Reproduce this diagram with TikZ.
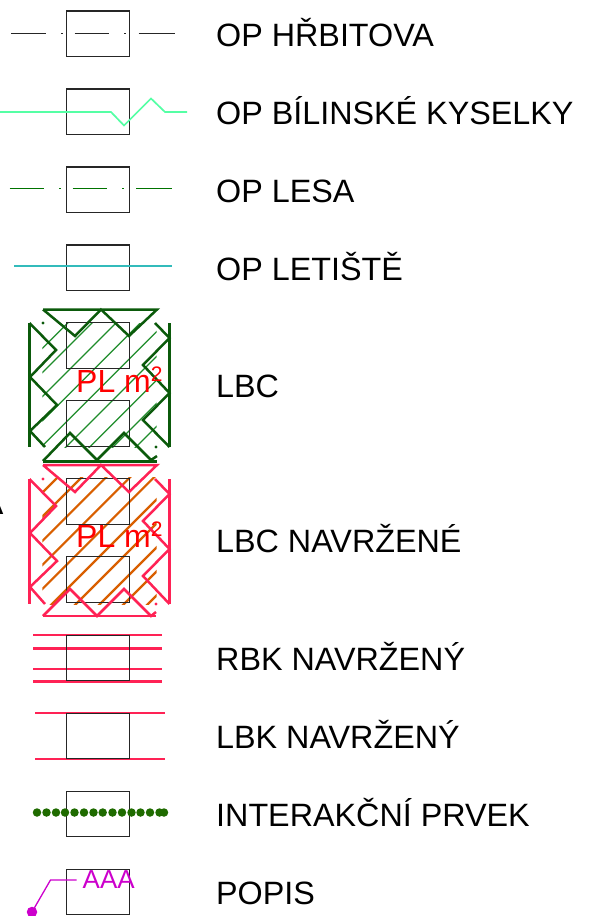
\documentclass[tikz,border=0pt]{standalone}
\usepackage{fontspec}
\setmainfont{Liberation Sans}
\definecolor{dgreen}{HTML}{0B5A0B}
\definecolor{hgreen}{HTML}{1E8C2A}
\definecolor{rose}{HTML}{FF2255}
\definecolor{orng}{HTML}{D95F00}
\definecolor{mint}{HTML}{55FFA5}
\definecolor{teal2}{HTML}{33BBBB}
\definecolor{ipgreen}{HTML}{1F6B00}
\definecolor{mgnt}{HTML}{CC00CC}
\tikzset{
  sample/.style={draw=black!85,line width=1.3pt,minimum width=63pt,minimum height=45.5pt,inner sep=0pt,outer sep=0pt},
  lab/.style={anchor=base west,inner sep=0pt,font=\fontsize{32.3}{36}\selectfont,text=black},
  area/.style={anchor=base west,inner sep=0pt,font=\fontsize{32}{36}\selectfont,text=red},
  dash1/.style={line width=1.3pt,draw=black!85},
  dash2/.style={line width=1.3pt,draw=green!45!black},
  thick1/.style={line width=2.5pt,draw=dgreen,line join=miter},
  thick2/.style={line width=2.5pt,draw=rose,line join=miter},
  hatch1/.style={line width=1.2pt,draw=hgreen},
  hatch2/.style={line width=2.2pt,draw=orng},
  redline/.style={line width=2.1pt,draw=rose},
  ipdot/.style={circle,fill=ipgreen,inner sep=0pt,minimum size=8.5pt},
}
\begin{document}
\begin{tikzpicture}[x=1pt,y=-1pt]
\useasboundingbox (0,0) rectangle (594,916);
% Row 1
\node[sample] (b1) at (98,33.7) {};
\draw[dash1] (11,33.7) coordinate (a1) -- (46,33.7);
\draw[dash1] (74.5,33.7) -- (108.5,33.7);
\draw[dash1] (138.5,33.7) -- (175,33.7);
\fill[black!85] (61.2,33) rectangle +(1.4,1.4);
\fill[black!85] (124.2,33) rectangle +(1.4,1.4);
\node[lab] (t1) at (216,46) {OP HŘBITOVA};
% Row 2
\node[sample] (b2) at (98,111.8) {};
\draw[line width=1.7pt,draw=mint] (0,112) -- (111,112) -- (124,125.5) -- (151,98.5) -- (165,112) -- (187,112);
\node[lab] (t2) at (216,124) {OP BÍLINSKÉ KYSELKY};
% Row 3
\node[sample] (b3) at (98,189.7) {};
\draw[dash2] (9.5,188.7) -- (43.5,188.7);
\draw[dash2] (72.5,188.7) -- (106.5,188.7);
\draw[dash2] (136,188.7) -- (172,188.7);
\fill[green!45!black] (59.2,188) rectangle +(1.4,1.4);
\fill[green!45!black] (122.2,188) rectangle +(1.4,1.4);
\node[lab] (t3) at (216,202) {OP LESA};
% Row 4
\node[sample] (b4) at (98,267.8) {};
\draw[line width=1.3pt,draw=teal2] (14,266) -- (172,266);
\node[lab] (t4) at (216,280) {OP LETIŠTĚ};
% LBC
\begin{scope}
\clip (42.3,323) rectangle (156.7,447);
\foreach \c in {90.7,115,139,163.3,188.3,213,236.7,260,283}
  \draw[hatch1] (\c-200,500) -- (\c+200,100);
\end{scope}
\node[sample] (b5) at (98,345.5) {};
\node[sample] (b6) at (98,423.5) {};
\draw[thick1] (43,309.5) -- (157,309.5) -- (129,336) -- (101,309.5) -- (75,336) -- (43,309.5);
\draw[thick1] (29.5,323) -- (29.5,447);
\draw[thick1] (29.5,323) -- (56,350) -- (30,377) -- (57,405) -- (30,431) -- (45,447);
\draw[thick1] (169.5,323) -- (169.5,447);
\draw[thick1] (155,323) -- (169.5,338) -- (143,365) -- (169.5,393) -- (143,420) -- (169.5,447);
\draw[thick1] (43,461) -- (70,433) -- (97,460) -- (124,433) -- (151,460) -- (157,456);
\fill[dgreen] (43,323) circle (1.6);
\fill[dgreen] (156,447) circle (1.6);
\node[area] (t5a) at (76,392) {PL m\raisebox{11pt}{\fontsize{21}{22}\selectfont 2}};
\node[lab] (t5) at (216,397) {LBC};
% LBC navrzene
\draw[line width=2.5pt,draw=dgreen] (43,461.5) -- (157,461.5);
\node[lab,anchor=base east] (t0) at (3.5,514) {A};
\begin{scope}
\clip (42.3,477) rectangle (156.7,604);
\foreach \c in {75,99,123.3,147.3,171.3,196,220,244,268,292}
  \draw[hatch2] (\c-200,660) -- (\c+200,260);
\end{scope}
\node[sample] (b7) at (98,501.5) {};
\node[sample] (b8) at (98,579.5) {};
\draw[thick2] (43,465) -- (157,465) -- (129,492) -- (101,465) -- (75,492) -- (43,465);
\draw[thick2] (29.5,479) -- (29.5,604);
\draw[thick2] (29.5,479) -- (56,506) -- (30,533) -- (57,561) -- (30,587) -- (45,604);
\draw[thick2] (169.5,479) -- (169.5,604);
\draw[thick2] (155,479) -- (169.5,494) -- (143,521) -- (169.5,549) -- (143,576) -- (169.5,604);
\draw[thick2] (43,616) -- (156,616);
\draw[thick2] (43,616) -- (70,589) -- (97,616) -- (124,589) -- (151,616) -- (156,612);
\fill[rose] (43,479) circle (1.6);
\fill[rose] (156,604) circle (1.6);
\node[area] (t6a) at (76,547.5) {PL m\raisebox{11pt}{\fontsize{21}{22}\selectfont 2}};
\node[lab] (t6) at (216,552) {LBC NAVRŽENÉ};
% RBK
\foreach \y in {634.7,648.5,669,681.5}
  \draw[redline] (33,\y) -- (162,\y);
\node[sample] (b9) at (98,658) {};
\node[lab] (t7) at (216,670) {RBK NAVRŽENÝ};
% LBK
\draw[redline] (35,712.7) -- (165,712.7);
\draw[redline] (35,759) -- (165,759);
\node[sample] (b10) at (98,736) {};
\node[lab] (t8) at (216,748) {LBK NAVRŽENÝ};
% Interakcni prvek
\node[sample] (b11) at (98,814) {};
\foreach \x in {37,46.5,56,65,74.5,84,93.5,102.7,112.5,122,131.5,140.5,150,159.5,164}
  \node[ipdot] at (\x,812.5) {};
\node[lab] (t9) at (216,826) {INTERAKČNÍ PRVEK};
% Popis
\node[sample] (b12) at (98,892) {};
\node[circle,fill=mgnt,inner sep=0pt,minimum size=10.5pt] (pd) at (32,912) {};
\coordinate (k) at (50.5,880);
\coordinate (e) at (76.5,880);
\draw[line width=1.3pt,draw=mgnt] (pd.center) -- (k) -- (e);
\node[anchor=base west,inner sep=0pt,font=\fontsize{26}{28}\selectfont,text=mgnt] (t10a) at (82.5,888) {AAA};
\node[lab] (t10) at (216,904) {POPIS};
\end{tikzpicture}
\end{document}
